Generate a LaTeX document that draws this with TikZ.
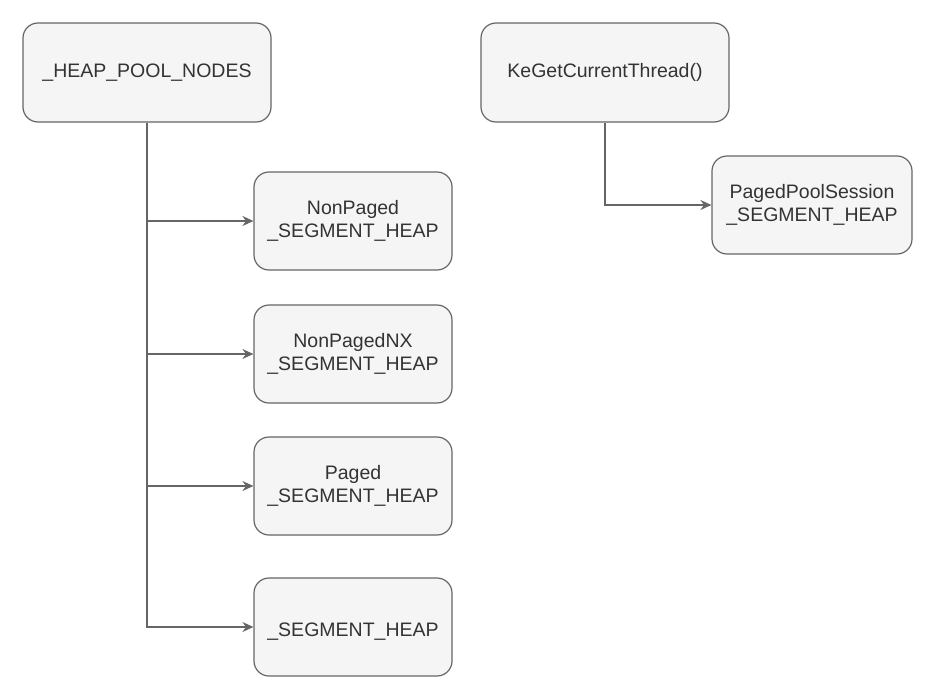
\documentclass[tikz,border=0pt]{standalone}
\usepackage{fontspec}
\setmainfont{Liberation Sans}
\usetikzlibrary{arrows.meta}
\definecolor{boxline}{HTML}{666666}
\definecolor{boxfill}{HTML}{F5F5F5}
\definecolor{boxtext}{HTML}{333333}
\tikzstyle{heapbox} = [draw=boxline, fill=boxfill, text=boxtext, line width=1.2pt, rectangle, rounded corners=15pt, align=center, minimum width=198pt, minimum height=98pt, font=\fontsize{19.5}{23}\selectfont]
\tikzstyle{rootbox} = [heapbox, minimum width=248pt, minimum height=99pt]
\tikzstyle{link} = [draw=boxline, line width=1.2pt, -{Stealth[length=11pt,width=10pt]}]

\begin{document}
\begin{tikzpicture}[x=1pt, y=-1pt]
\useasboundingbox (0,0) rectangle (934,696);
% pool nodes
\node [rootbox] (heap) at (147,72.5) {\_HEAP\_POOL\_NODES};
\node [heapbox] (nonpaged) at (353,221) {NonPaged\\\_SEGMENT\_HEAP};
\node [heapbox] (nonpagednx) at (353,354) {NonPagedNX\\\_SEGMENT\_HEAP};
\node [heapbox] (paged) at (353,486) {Paged\\\_SEGMENT\_HEAP};
\node [heapbox] (segheap) at (353,627) {\mbox{}\\\_SEGMENT\_HEAP};
% session pool
\node [rootbox] (curthread) at (605,72.5) {KeGetCurrentThread()};
\node [heapbox, minimum width=200pt] (session) at (812,205) {PagedPoolSession\\\_SEGMENT\_HEAP};
\draw [link] (heap.south) |- (nonpaged.west);
\draw [link] (heap.south) |- (nonpagednx.west);
\draw [link] (heap.south) |- (paged.west);
\draw [link] (heap.south) |- (segheap.west);
\draw [link] (curthread.south) |- (session.west);
\end{tikzpicture}
\end{document}
